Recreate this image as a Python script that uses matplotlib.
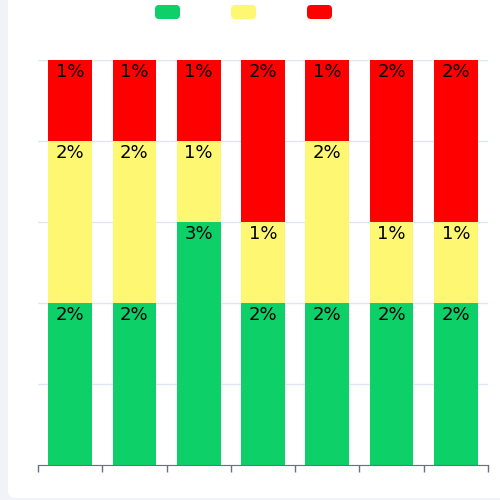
import matplotlib
matplotlib.use("Agg")
import matplotlib.pyplot as plt
from matplotlib.patches import FancyBboxPatch
import numpy as np

categories = ["1", "2", "3", "4", "5", "6", "7"]
green = [2, 2, 3, 2, 2, 2, 2]
yellow = [2, 2, 1, 1, 2, 1, 1]
red = [1, 1, 1, 2, 1, 2, 2]
colors = ["#0dd068", "#fef771", "#ff0000"]

fig = plt.figure(figsize=(5, 5), dpi=100)
fig.patch.set_facecolor("#f2f3f8")
card = FancyBboxPatch((8 / 500, 2 / 500), 1.2, 1.05,
                      boxstyle="round,pad=0,rounding_size=0.015",
                      transform=fig.transFigure, facecolor="white",
                      edgecolor="none", zorder=-5)
fig.patches.append(card)

ax = fig.add_axes([38 / 500, 35 / 500, 450 / 500, 405 / 500])
ax.set_zorder(2)
ax.set_facecolor("none")
x = np.arange(len(categories))
width = 0.68
bottom = np.zeros(len(categories))
for vals, col in zip([green, yellow, red], colors):
    ax.bar(x, vals, width, bottom=bottom, color=col, zorder=2)
    for xi, b, v in zip(x, bottom, vals):
        ax.annotate(f"{v}%", (xi, b + v), xytext=(0, -2.5), textcoords="offset points",
                    ha="center", va="top", fontsize=13, color="black", zorder=3)
    bottom = bottom + np.array(vals)

ax.set_xlim(-0.5, len(categories) - 0.5)
ax.set_ylim(0, 5)
ax.set_yticks(range(0, 6))
ax.yaxis.grid(True, color="#e0e6f1", linewidth=1, zorder=0)
ax.set_axisbelow(True)
ax.tick_params(axis="y", length=0, labelleft=False)
ax.set_xticks(np.arange(-0.5, len(categories), 1.0))
ax.tick_params(axis="x", length=5, color="#6e7079", labelbottom=False, width=1)
for s in ["top", "right", "left"]:
    ax.spines[s].set_visible(False)
ax.spines["bottom"].set_color("#6e7079")

# legend: colored rounded markers without text
lx = [155, 231, 307]
for l, col in zip(lx, colors):
    fig.patches.append(FancyBboxPatch((l / 500, (500 - 19) / 500), 25 / 500, 14 / 500,
                                      boxstyle="round,pad=0,rounding_size=0.008",
                                      transform=fig.transFigure, facecolor=col,
                                      edgecolor="none", zorder=3))

fig.savefig("out.png", dpi=100, facecolor=fig.get_facecolor())
